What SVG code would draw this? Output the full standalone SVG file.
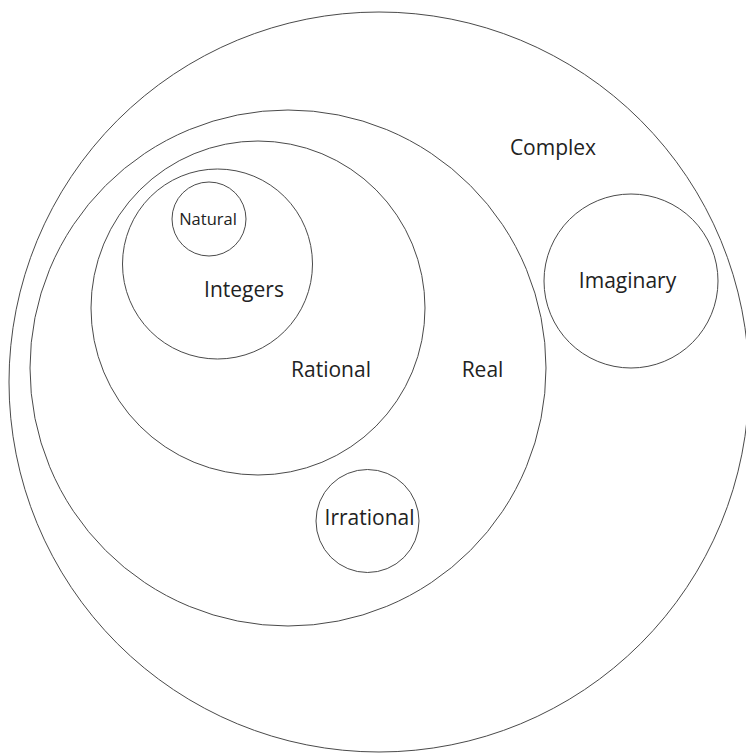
<svg xmlns="http://www.w3.org/2000/svg" width="746" height="754" viewBox="0 0 746 754">
<style>
.set{fill:none;stroke:#4a4a4a;stroke-width:1}
.lbl{font-family:"Open Sans","Noto Sans","Liberation Sans",sans-serif;font-size:21px;fill:#222;text-anchor:middle}
.sm{font-size:16.5px}
</style>
<rect width="746" height="754" fill="#fff"/>
<g id="complex"><circle class="set" cx="379" cy="382" r="370"/><text class="lbl" x="553" y="155">Complex</text></g>
<g id="real"><circle class="set" cx="288" cy="368" r="258"/><text class="lbl" x="482.5" y="377">Real</text></g>
<g id="rational"><circle class="set" cx="258" cy="308" r="167"/><text class="lbl" x="331" y="377">Rational</text></g>
<g id="integers"><circle class="set" cx="217.5" cy="264" r="95"/><text class="lbl" x="244" y="297">Integers</text></g>
<g id="natural"><circle class="set" cx="209" cy="219" r="37"/><text class="lbl sm" x="208" y="225">Natural</text></g>
<g id="imaginary"><circle class="set" cx="631" cy="281" r="87"/><text class="lbl" x="627.5" y="288">Imaginary</text></g>
<g id="irrational"><circle class="set" cx="367.5" cy="521" r="51.5"/><text class="lbl" x="369.5" y="525">Irrational</text></g>
<g id="connectors"/>
</svg>
